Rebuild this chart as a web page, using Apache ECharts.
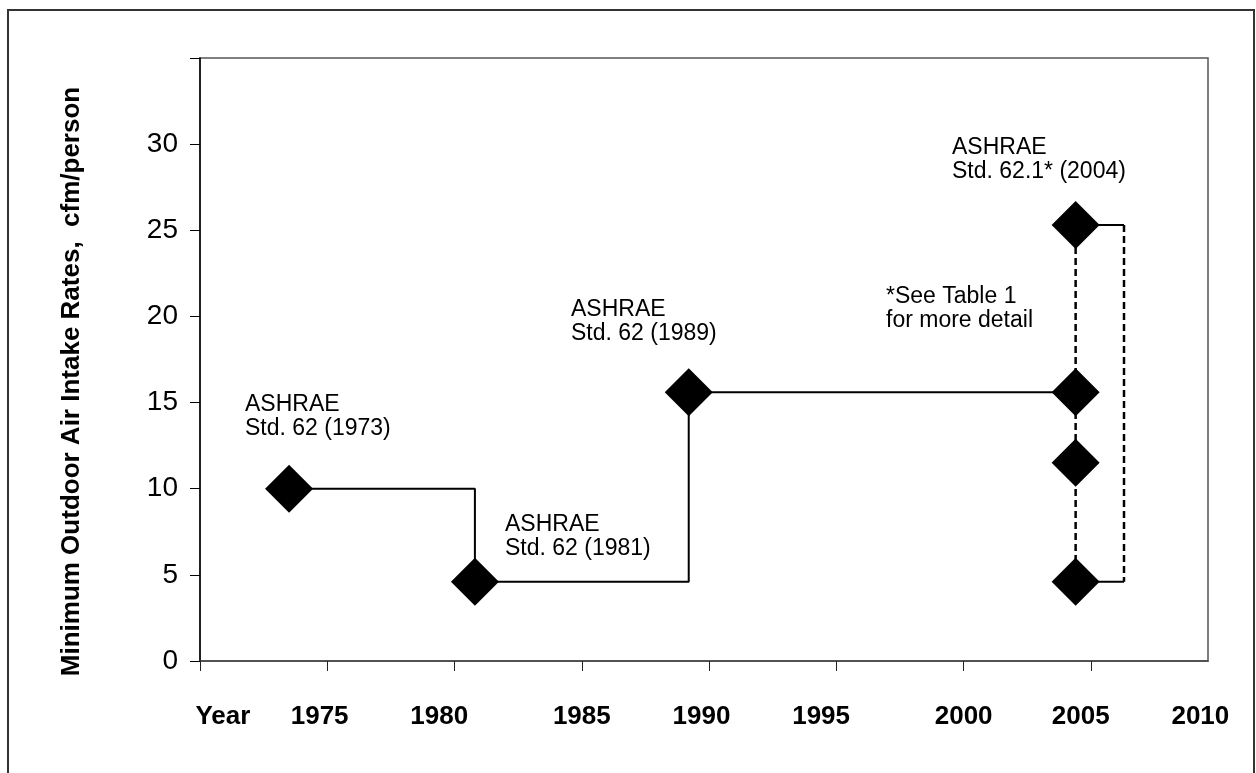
<!DOCTYPE html>
<html>
<head>
<meta charset="utf-8">
<title>ASHRAE Std. 62 outdoor air rates</title>
<script src="https://cdn.jsdelivr.net/npm/echarts@6/dist/echarts.min.js"></script>
<style>
html, body { margin: 0; padding: 0; background: #fff; }
#chart { width: 1256px; height: 773px; }
</style>
</head>
<body>
<div id="chart"></div>
<script>
// standard editions (year placed as on the original drawing) and their rate
var stdYears = [1973.5, 1980.8, 1989.2, 2004.4];
var stdRates = [10, 4.6, 15.6, 15.6];
// 2004 edition has a range of rates (see Table 1)
var rates2004 = [25.3, 15.6, 11.5, 4.6];
var rangeEndYear = 2006.3;

var tickYears = [1970, 1975, 1980, 1985, 1990, 1995, 2000, 2005];
var xTickLabels = ['Year', '1975', '1980', '1985', '1990', '1995', '2000', '2005', '2010'];
var yTickLabels = [0, 5, 10, 15, 20, 25, 30];

var notes = [
	'ASHRAE\nStd. 62 (1973)',
	'ASHRAE\nStd. 62 (1981)',
	'ASHRAE\nStd. 62 (1989)',
	'ASHRAE\nStd. 62.1* (2004)',
	'*See Table 1\nfor more detail'
];

window.onload = function() {
	var chart = echarts.init(document.getElementById('chart'));
	var font = '"Liberation Sans", Arial, sans-serif';

	// where the year labels sit under the axis (in axis units)
	var xLabelAt = [1970.9, 1974.7, 1979.4, 1985.0, 1989.7, 1994.4, 2000.0, 2004.6, 2009.3];
	// top-left corners of the text boxes, px
	var notePos = [[245, 393], [505, 513], [571, 298], [952, 136], [886, 285]];

	var y2004 = stdYears[3];
	var stepData = stdYears.map(function(y, i) { return [y, stdRates[i]]; });
	var diamonds = stepData.slice(0, 3).concat(rates2004.map(function(r) { return [y2004, r]; }));
	var top = rates2004[0], bottom = rates2004[rates2004.length - 1];

	var lineBlack = { color: '#000', width: 2 };
	var dashBlack = { color: '#000', width: 2.5, type: [7, 4] };

	var option = {
		backgroundColor: '#fff',
		animation: false,
		textStyle: { fontFamily: font },
		grid: {
			left: 200, right: 48, top: 58, bottom: 112,
			show: true, borderColor: '#555', borderWidth: 1.5,
			outerBoundsMode: 'none'
		},
		xAxis: {
			type: 'value',
			min: 1970,
			max: 2009.6,
			interval: 5,
			axisLine: { lineStyle: { color: '#444', width: 1.5 } },
			axisTick: { length: 10, customValues: tickYears, lineStyle: { color: '#222' } },
			axisLabel: {
				customValues: xLabelAt,
				margin: 43,
				fontSize: 26,
				fontWeight: 'bold',
				color: '#000',
				formatter: function(v) {
					var best = 0;
					for (var i = 0; i < xLabelAt.length; i++) {
						if (Math.abs(xLabelAt[i] - v) < Math.abs(xLabelAt[best] - v)) best = i;
					}
					return xTickLabels[best];
				}
			},
			splitLine: { show: false }
		},
		yAxis: {
			type: 'value',
			min: 0,
			max: 35,
			interval: 5,
			name: 'Minimum Outdoor Air Intake Rates,  cfm/person',
			nameLocation: 'middle',
			nameGap: 115,
			nameTextStyle: { fontSize: 26, fontWeight: 'bold', color: '#000', padding: [0, 44, 0, 0] },
			axisLine: { show: true, lineStyle: { color: '#000', width: 1.5 } },
			axisTick: { show: true, length: 10, lineStyle: { color: '#000' } },
			axisLabel: {
				margin: 22,
				fontSize: 28,
				color: '#000',
				formatter: function(v) { return yTickLabels.indexOf(v) >= 0 ? String(v) : ''; }
			},
			splitLine: { show: false }
		},
		series: [
			{
				name: 'Std. 62',
				type: 'line',
				step: 'end',
				data: stepData,
				showSymbol: false,
				lineStyle: lineBlack,
				z: 2
			},
			{
				name: '2004 range',
				type: 'line',
				data: [[y2004, top], [y2004, bottom]],
				showSymbol: false,
				lineStyle: dashBlack,
				z: 2
			},
			{
				name: '2004 bracket top',
				type: 'line',
				data: [[y2004, top], [rangeEndYear, top]],
				showSymbol: false,
				lineStyle: lineBlack,
				z: 2
			},
			{
				name: '2004 bracket side',
				type: 'line',
				data: [[rangeEndYear, top], [rangeEndYear, bottom]],
				showSymbol: false,
				lineStyle: dashBlack,
				z: 2
			},
			{
				name: '2004 bracket bottom',
				type: 'line',
				data: [[rangeEndYear, bottom], [y2004, bottom]],
				showSymbol: false,
				lineStyle: lineBlack,
				z: 2
			},
			{
				name: 'editions',
				type: 'scatter',
				data: diamonds,
				symbol: 'diamond',
				symbolSize: 48,
				itemStyle: { color: '#000', opacity: 1 },
				z: 5
			}
		],
		graphic: [
			{
				// outer frame, bottom edge runs off the page
				type: 'rect',
				shape: { x: 8, y: 10, width: 1246, height: 775 },
				style: { fill: 'none', stroke: '#333', lineWidth: 2 },
				silent: true
			}
		].concat(notes.map(function(t, i) {
			return {
				type: 'text',
				x: notePos[i][0],
				y: notePos[i][1],
				style: {
					text: t,
					font: '23px ' + font,
					lineHeight: 24,
					fill: '#000',
					textAlign: 'left',
					textVerticalAlign: 'top'
				}
			};
		}))
	};

	chart.setOption(option);
};
</script>
</body>
</html>
